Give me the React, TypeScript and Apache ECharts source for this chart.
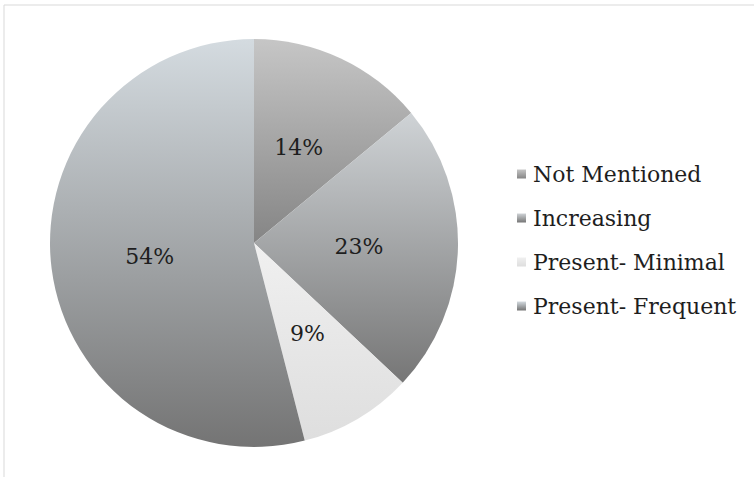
import React, { useEffect, useRef } from "react";
import * as echarts from "echarts";

const categories = ["Not Mentioned", "Increasing", "Present- Minimal", "Present- Frequent"];
const values = [14, 23, 9, 54];
const topColors = ["#c6c6c6", "#cfd3d6", "#f0f0f0", "#d4dbe0"];
const bottomColors = ["#858585", "#767676", "#dedede", "#747474"];

export default function App() {
  const ref = useRef<HTMLDivElement>(null);
  useEffect(() => {
    const chart = echarts.init(ref.current!, null, { renderer: "svg" });
    const grad = (i: number) => ({
      type: "linear",
      x: 0,
      y: 0,
      x2: 0,
      y2: 1,
      colorStops: [
        { offset: 0, color: topColors[i] },
        { offset: 1, color: bottomColors[i] },
      ],
    });
    chart.setOption({
      animation: false,
      backgroundColor: "#ffffff",
      legend: {
        orient: "vertical",
        left: 512,
        top: 158,
        itemWidth: 9,
        itemHeight: 9,
        itemGap: 22,
        icon: "rect",
        textStyle: { fontFamily: "DejaVu Serif", fontSize: 22, color: "#1e1e1e", padding: [0, 0, 0, 2] },
        data: categories,
      },
      graphic: [
        { type: "line", shape: { x1: 4, y1: 5, x2: 754, y2: 5 }, style: { stroke: "#d9d9d9", lineWidth: 1 } },
        { type: "line", shape: { x1: 4, y1: 5, x2: 4, y2: 477 }, style: { stroke: "#d9d9d9", lineWidth: 1 } },
      ],
      series: [
        {
          type: "pie",
          center: [254, 243],
          radius: 204,
          startAngle: 90,
          clockwise: true,
          label: {
            position: "inside",
            formatter: "{d}%",
            fontFamily: "DejaVu Serif",
            fontSize: 22,
            color: "#1e1e1e",
          },
          labelLine: { show: false },
          itemStyle: { borderWidth: 0 },
          emphasis: { disabled: true },
          data: categories.map((name, i) => ({
            name,
            value: values[i],
            itemStyle: { color: grad(i) },
          })),
        },
      ],
    });
    return () => chart.dispose();
  }, []);
  return <div ref={ref} style={{ position: "fixed", left: 0, top: 0, width: 754, height: 477 }} />;
}
